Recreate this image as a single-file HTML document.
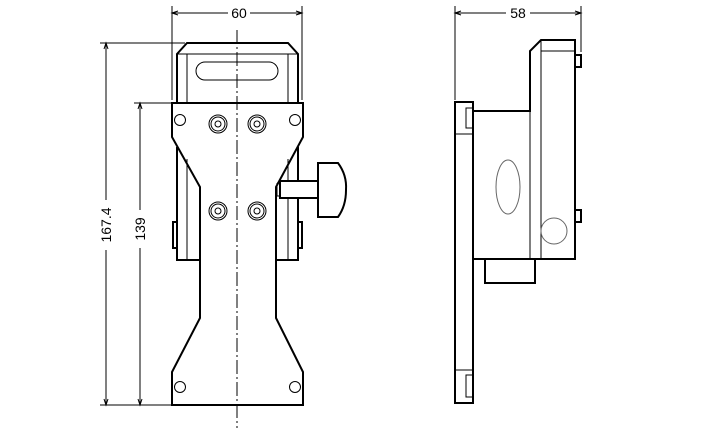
<!DOCTYPE html>
<html><head><style>html,body{margin:0;padding:0;background:#fff}svg{display:block}</style></head>
<body>
<svg width="720" height="438" viewBox="0 0 720 438" xmlns="http://www.w3.org/2000/svg" font-family="Liberation Sans, sans-serif">
<g stroke="#000" fill="none" stroke-width="1">
<line x1="172" y1="6" x2="172" y2="100"/>
<line x1="302" y1="6" x2="302" y2="100"/>
<line x1="172" y1="13" x2="228" y2="13"/><line x1="250" y1="13" x2="302" y2="13"/>
<path d="M178 11 L172 13 L178 15 M296 11 L302 13 L296 15"/>
<line x1="455" y1="6" x2="455" y2="100"/>
<line x1="581" y1="6" x2="581" y2="52"/>
<line x1="455" y1="13" x2="506" y2="13"/><line x1="530" y1="13" x2="581" y2="13"/>
<path d="M461 11 L455 13 L461 15 M575 11 L581 13 L575 15"/>
<line x1="100" y1="43" x2="185" y2="43"/>
<line x1="100" y1="405" x2="172" y2="405"/>
<line x1="134" y1="103" x2="172" y2="103"/>
<line x1="106" y1="43" x2="106" y2="200"/><line x1="106" y1="250" x2="106" y2="405"/>
<line x1="140" y1="103" x2="140" y2="210"/><line x1="140" y1="248" x2="140" y2="405"/>
<path d="M104 49 L106 43 L108 49 M104 399 L106 405 L108 399 M138 109 L140 103 L142 109 M138 399 L140 405 L142 399"/>
<line x1="237" y1="30" x2="237" y2="428" stroke-dasharray="14,3,2,3"/>
</g>
<g stroke="#000" fill="none" stroke-width="2">
<path d="M177 103 L177 54 L187 43 L288 43 L298 54 L298 103"/>
<path d="M172 103 L303 103 L303 137 L276 187 L276 318 L303 372 L303 405 L172 405 L172 372 L200 318 L200 187 L172 137 Z"/>
<path d="M177 147 L177 260 L200 260 M298 147 L298 181 M298 198 L298 260 L276 260"/>
<path d="M177 222 L173 222 L173 248 L177 248 M298 222 L302 222 L302 248 L298 248"/>
<rect x="280" y="181" width="38" height="17"/>
<path d="M318 163 L338 163 Q347 175 346 190 Q346 206 338 217 L318 217 Z"/>
</g>
<g stroke="#000" fill="none" stroke-width="1">
<line x1="177" y1="54" x2="298" y2="54"/>
<path d="M187 54 L187 103 M288 54 L288 103 M187 159 L187 260 M288 159 L288 181 M288 198 L288 260"/>
<rect x="196" y="62" width="82" height="18" rx="9"/>
<line x1="277" y1="183" x2="277" y2="196"/><line x1="277" y1="183" x2="280" y2="183"/><line x1="277" y1="196" x2="280" y2="196"/>
<circle cx="180" cy="120" r="5.5"/><circle cx="295" cy="120" r="5.5"/>
<circle cx="180" cy="387" r="5.5"/><circle cx="295" cy="387" r="5.5"/>
<g>
<circle cx="218" cy="124" r="9"/><circle cx="218" cy="124" r="7"/><circle cx="218" cy="124" r="3"/>
<circle cx="257" cy="124" r="9"/><circle cx="257" cy="124" r="7"/><circle cx="257" cy="124" r="3"/>
<circle cx="218" cy="211" r="9"/><circle cx="218" cy="211" r="7"/><circle cx="218" cy="211" r="3"/>
<circle cx="257" cy="211" r="9"/><circle cx="257" cy="211" r="7"/><circle cx="257" cy="211" r="3"/>
</g>
</g>
<g stroke="#000" fill="none" stroke-width="2">
<rect x="455" y="102" width="18" height="301"/>
<path d="M473 111 L530 111 L530 51 L541 40 L575 40 L575 259 L473 259"/>
<rect x="485" y="259" width="50" height="24"/>
<path d="M575 55 L581 55 L581 67 L575 67 M575 210 L581 210 L581 222 L575 222"/>
</g>
<g stroke="#000" fill="none" stroke-width="1">
<rect x="466" y="108" width="7" height="20"/>
<line x1="455" y1="134" x2="473" y2="134"/>
<line x1="455" y1="370" x2="473" y2="370"/>
<rect x="466" y="375" width="7" height="22"/>
<line x1="541" y1="40" x2="541" y2="259"/>
<line x1="530" y1="51" x2="530" y2="259"/>
<line x1="541" y1="51" x2="575" y2="51"/>
</g>
<g stroke="#666" fill="none" stroke-width="1">
<ellipse cx="508" cy="187" rx="12" ry="27"/>
<circle cx="554" cy="231" r="13"/>
</g>
<g fill="#000" font-size="14">
<text x="239" y="18" text-anchor="middle">60</text>
<text x="518" y="18" text-anchor="middle">58</text>
<text transform="translate(111,225) rotate(-90)" text-anchor="middle">167.4</text>
<text transform="translate(145,229) rotate(-90)" text-anchor="middle">139</text>
</g>
</svg>
</body></html>
